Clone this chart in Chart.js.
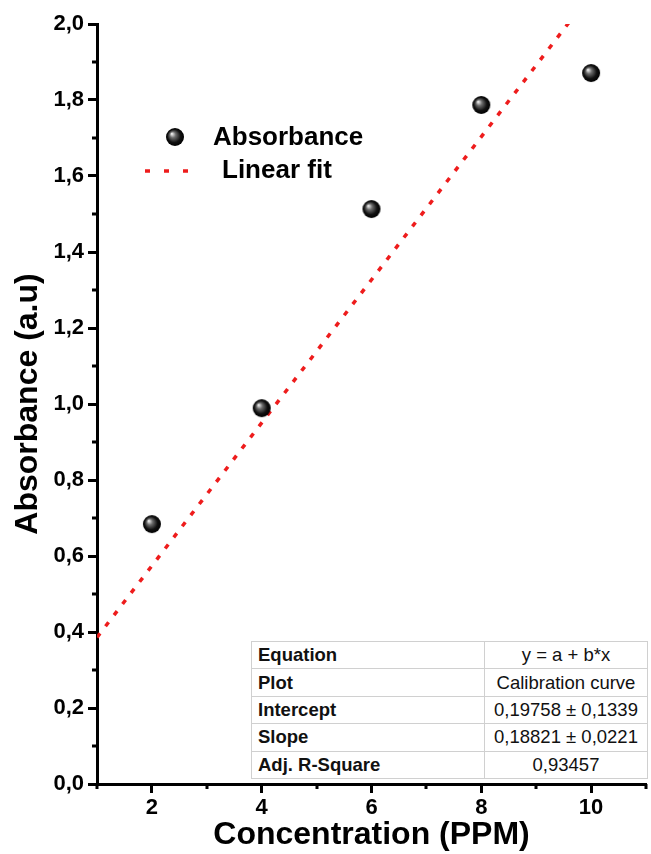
<!DOCTYPE html>
<html>
<head>
<meta charset="utf-8">
<script src="https://cdn.jsdelivr.net/npm/chart.js@4.4.1/dist/chart.umd.min.js"></script>
<style>
  body { margin: 0; background: #fff; }
  #wrap { position: relative; width: 651px; height: 854px; }
  #fitTable {
    position: absolute; left: 251px; top: 641px; width: 397px; height: 138px;
    border-collapse: collapse; background: #fff;
    font-family: "Liberation Sans", Arial, sans-serif; font-size: 18.5px; color: #111;
    border: 1.5px solid #8a8a8a;
  }
  #fitTable td { border: 1px solid #d0d0d0; padding: 0 6px; line-height: 20px; }
  #fitTable td:first-child { font-weight: bold; width: 220px; }
  #fitTable td:last-child { text-align: center; white-space: nowrap; }
</style>
</head>
<body>
<div id="wrap">
  <canvas id="calChart" width="651" height="854"></canvas>
  <table id="fitTable"></table>
</div>
<script>
const concentration = [2, 4, 6, 8, 10];
const absorbance = [0.684, 0.989, 1.513, 1.787, 1.871];
const fitX = [1, 11];
const fitY = [0.386, 2.268];
const xTickValues = [2, 4, 6, 8, 10];
const xMinorValues = [1, 3, 5, 7, 9, 11];
const yMinorValues = [0.1, 0.3, 0.5, 0.7, 0.9, 1.1, 1.3, 1.5, 1.7, 1.9];
const tableLabels = ["Equation", "Plot", "Intercept", "Slope", "Adj. R-Square"];
const tableValues = ["y = a + b*x", "Calibration curve", "0,19758 \u00b1 0,1339", "0,18821 \u00b1 0,0221", "0,93457"];

const tbl = document.getElementById("fitTable");
tableLabels.forEach((lab, i) => {
  const tr = document.createElement("tr");
  const a = document.createElement("td"); a.textContent = lab;
  const b = document.createElement("td"); b.textContent = tableValues[i];
  tr.appendChild(a); tr.appendChild(b); tbl.appendChild(tr);
});

// shaded black sphere for markers
function makeSphere(r) {
  const c = document.createElement("canvas");
  c.width = c.height = r * 2 + 2;
  const ctx = c.getContext("2d");
  const cx = r + 1, cy = r + 1;
  const g = ctx.createRadialGradient(cx - r * 0.35, cy - r * 0.35, 0.5, cx, cy, r);
  g.addColorStop(0, "#e8e8e8");
  g.addColorStop(0.3, "#6a6a6a");
  g.addColorStop(0.7, "#111");
  g.addColorStop(1, "#000");
  ctx.fillStyle = g;
  ctx.beginPath(); ctx.arc(cx, cy, r, 0, Math.PI * 2); ctx.fill();
  return c;
}
const sphere = makeSphere(9);

const fontFam = '"Liberation Sans", Arial, sans-serif';

const extras = {
  id: "extras",
  afterDraw(chart) {
    const ctx = chart.ctx;
    const xs = chart.scales.x, ys = chart.scales.y;
    const area = chart.chartArea;
    ctx.save();
    ctx.strokeStyle = "#000";
    ctx.lineWidth = 3;
    ctx.beginPath();
    yMinorValues.forEach(v => {
      const p = Math.round(ys.getPixelForValue(v));
      ctx.moveTo(area.left - 5, p); ctx.lineTo(area.left, p);
    });
    xMinorValues.forEach(v => {
      const p = Math.round(xs.getPixelForValue(v));
      ctx.moveTo(p, area.bottom); ctx.lineTo(p, area.bottom + 5);
    });
    ctx.stroke();

    // legend
    const lx = area.left + 78, ly = area.top + 113;
    ctx.drawImage(sphere, lx - sphere.width / 2, ly - sphere.height / 2);
    ctx.fillStyle = "#000";
    ctx.font = "bold 26px " + fontFam;
    ctx.textBaseline = "middle";
    ctx.fillText("Absorbance", area.left + 116, ly + 1);
    ctx.strokeStyle = "#ee1c1c";
    ctx.lineWidth = 3.5;
    ctx.setLineDash([5, 14]);
    ctx.beginPath();
    ctx.moveTo(area.left + 48, ly + 34); ctx.lineTo(area.left + 105, ly + 34);
    ctx.stroke();
    ctx.setLineDash([]);
    ctx.fillText("Linear fit", area.left + 125, ly + 34);
    ctx.restore();
  }
};

new Chart(document.getElementById("calChart"), {
  type: "scatter",
  data: {
    datasets: [
      {
        label: "Absorbance",
        data: concentration.map((x, i) => ({ x: x, y: absorbance[i] })),
        pointStyle: sphere,
        order: 1
      },
      {
        type: "line",
        label: "Linear fit",
        data: fitX.map((x, i) => ({ x: x, y: fitY[i] })),
        borderColor: "#ee1c1c",
        borderWidth: 3.5,
        borderDash: [5, 9],
        pointRadius: 0,
        fill: false,
        order: 2
      }
    ]
  },
  options: {
    responsive: false,
    animation: false,
    devicePixelRatio: 1,
    layout: { padding: { left: 0, top: 24, right: 4, bottom: 0 } },
    plugins: { legend: { display: false }, tooltip: { enabled: false } },
    scales: {
      x: {
        type: "linear", min: 1, max: 11,
        afterBuildTicks: s => { s.ticks = xTickValues.map(v => ({ value: v })); },
        afterFit: s => { s.height = 70; },
        border: { color: "#000", width: 3 },
        grid: { drawOnChartArea: false, tickLength: 9, tickWidth: 3, tickColor: "#000" },
        ticks: { color: "#000", font: { family: fontFam, size: 22, weight: "bold" }, padding: 2 },
        title: {
          display: true, text: "Concentration (PPM)", color: "#000",
          font: { family: fontFam, size: 32, weight: "bold" }, padding: { top: 0, bottom: 0 }
        }
      },
      y: {
        min: 0, max: 2,
        afterFit: s => { s.width = 97; },
        border: { color: "#000", width: 3 },
        grid: { drawOnChartArea: false, tickLength: 9, tickWidth: 3, tickColor: "#000" },
        ticks: {
          stepSize: 0.2, color: "#000", padding: 4,
          font: { family: fontFam, size: 22, weight: "bold" },
          callback: v => v.toFixed(1).replace(".", ",")
        },
        title: {
          display: true, text: "Absorbance (a.u)", color: "#000",
          font: { family: fontFam, size: 32, weight: "bold" }, padding: { top: 9, bottom: 0 }
        }
      }
    }
  },
  plugins: [extras]
});
</script>
</body>
</html>
